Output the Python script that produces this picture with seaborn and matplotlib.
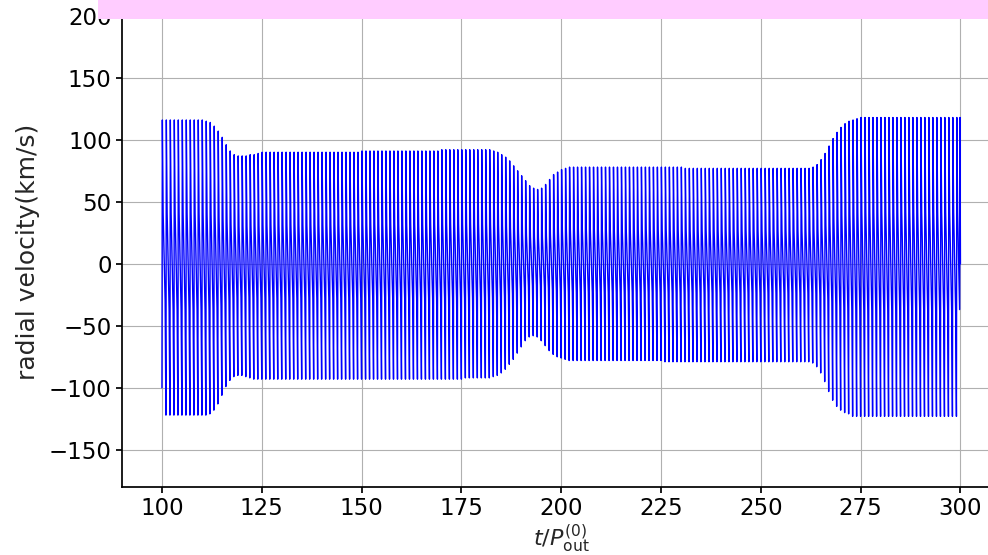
import numpy as np
import pandas as pd
import seaborn as sns
import matplotlib
matplotlib.use("Agg")
import matplotlib.pyplot as plt
from matplotlib.patches import Rectangle

## Donnees : une oscillation par periode externe

# instant de chaque passage (t / P_out^(0))
t_peri = list(range(100, 300))

# maximum de chaque cycle (km/s)
v_max = ([116] * 11
         + [115, 114, 111, 107, 102, 96, 91, 88, 87, 87, 87, 88, 88, 89]
         + [90] * 25 + [91] * 20 + [92] * 13
         + [91, 90, 88, 86, 83, 79, 75, 71, 67, 63, 61, 60, 61, 64, 68, 72, 74, 76, 77]
         + [78] * 29 + [77] * 32
         + [78, 80, 84, 89, 95, 101, 106, 110, 113, 115, 116, 117]
         + [118] * 25)

# minimum de chaque cycle (km/s)
v_min = ([-100] + [-122] * 11
         + [-121, -118, -113, -106, -99, -94, -91, -90, -90, -91, -92]
         + [-93] * 53 + [-92] * 7
         + [-91, -90, -88, -85, -81, -77, -72, -67, -62, -59, -58, -59, -62, -66, -70, -73, -75, -76, -77]
         + [-78] * 24 + [-79] * 37
         + [-80, -83, -88, -95, -103, -110, -115, -118, -120, -121]
         + [-123] * 27)

xticks = [100, 125, 150, 175, 200, 225, 250, 275, 300]
yticks = [-150, -100, -50, 0, 50, 100, 150, 200]

## Construction de la courbe : montee rapide min -> max puis lente derive autour de 0
t_list = []
v_list = []
for tk, hi, lo in zip(t_peri, v_max, v_min):
    t_list += [tk, tk + 0.1, tk + 0.3, tk + 0.8]
    v_list += [lo, hi, 0.35 * hi, 0.3 * lo]
# dernier demi-cycle jusqu'a t = 300
t_list += [299.9, 300.0]
v_list += [v_max[-1], 0]

df = pd.DataFrame({"t": t_list, "rv": v_list})

## Figure
sns.set_theme(style="ticks", rc={"axes.grid": True, "grid.color": "#b0b0b0",
                                 "grid.linewidth": 0.8, "axes.edgecolor": "black"})
plt.rcParams['font.family'] = ['DejaVu Sans']

fig = plt.figure(figsize=(9.88, 5.55), dpi=100)
ax = fig.add_axes([0.1235, 0.1225, 0.889, 0.849])

sns.lineplot(data=df, x="t", y="rv", color="blue", linewidth=1.0,
             estimator=None, sort=False, ax=ax)

ax.set_xlim(90, 310)
ax.set_ylim(-180, 200)
ax.set_xticks(xticks)
ax.set_yticks(yticks)
ax.tick_params(labelsize=16.5, length=4, colors="black")
ax.set_xlabel(r"$t/P_{\rm out}^{(0)}$", fontsize=16, labelpad=2)
ax.set_ylabel("radial velocity(km/s)", fontsize=18, labelpad=6)

# bandeau rose du titre (coupe en haut de l'image)
fig.patches.append(Rectangle((98 / 988, 1 - 19 / 555), 1.0, 0.1,
                             transform=fig.transFigure, facecolor="#ffccff",
                             edgecolor="none", zorder=10))

plt.savefig("out.png", dpi=100)
